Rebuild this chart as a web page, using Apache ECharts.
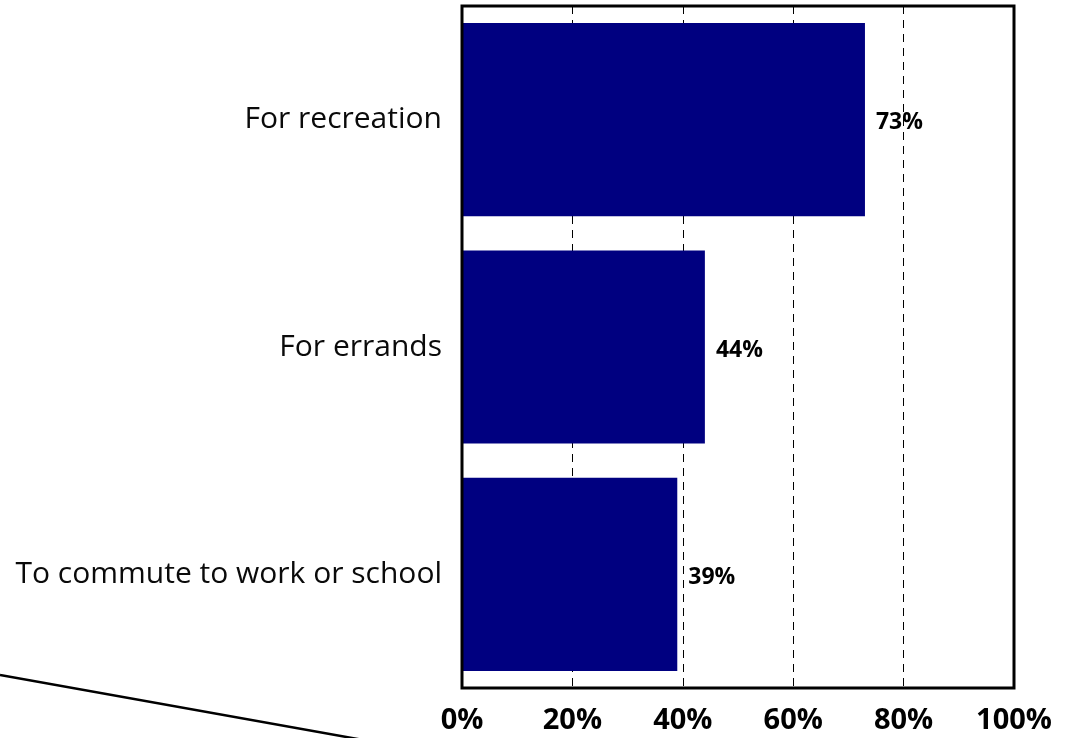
<!DOCTYPE html>
<html>
<head>
<meta charset="utf-8">
<script src="https://cdn.jsdelivr.net/npm/echarts@6/dist/echarts.min.js"></script>
<style>
  html, body { margin: 0; padding: 0; background: #fff; }
  #chart { width: 1078px; height: 738px; }
</style>
</head>
<body>
<div id="chart"></div>
<script>
// Reasons for cycling (share of respondents)
const categories = ['To commute to work or school', 'For errands', 'For recreation'];
const shares = [39, 44, 73];
const tickValues = [0, 20, 40, 60, 80, 100];

const chart = echarts.init(document.getElementById('chart'));
chart.setOption({
  animation: false,
  grid: { left: 462, right: 64, top: 6, bottom: 50, containLabel: false },
  xAxis: {
    type: 'value', min: 0, max: 100, interval: 20,
    axisLine: { show: false },
    axisTick: { show: false },
    splitLine: { show: true, lineStyle: { color: '#000', width: 1, type: [8, 6] } },
    axisLabel: {
      margin: 18,
      formatter: v => tickValues.includes(v) ? v + '%' : '',
      fontFamily: 'Open Sans', fontWeight: 'bold', fontSize: 29, color: '#000'
    }
  },
  yAxis: {
    type: 'category', data: categories,
    axisLine: { show: false },
    axisTick: { show: false },
    splitLine: { show: false },
    axisLabel: {
      margin: 20, padding: [5, 0, 0, 0],
      fontFamily: 'Open Sans', fontSize: 30, color: '#0a0a0a'
    }
  },
  series: [{
    type: 'bar',
    data: shares,
    barCategoryGap: '15%',
    itemStyle: { color: '#000080' },
    label: {
      show: true, position: 'right', distance: 11, offset: [0, 3],
      formatter: p => p.value + '%',
      fontFamily: 'Open Sans', fontWeight: 'bold', fontSize: 23, color: '#000'
    }
  }],
  graphic: [
    {
      // plot frame
      type: 'rect', z: 10,
      shape: { x: 462, y: 6, width: 552, height: 682 },
      style: { fill: 'none', stroke: '#000', lineWidth: 3 }
    },
    {
      type: 'line', z: 10,
      shape: { x1: 0, y1: 675, x2: 380, y2: 743 },
      style: { stroke: '#000', lineWidth: 2.5 }
    }
  ]
});
</script>
</body>
</html>
